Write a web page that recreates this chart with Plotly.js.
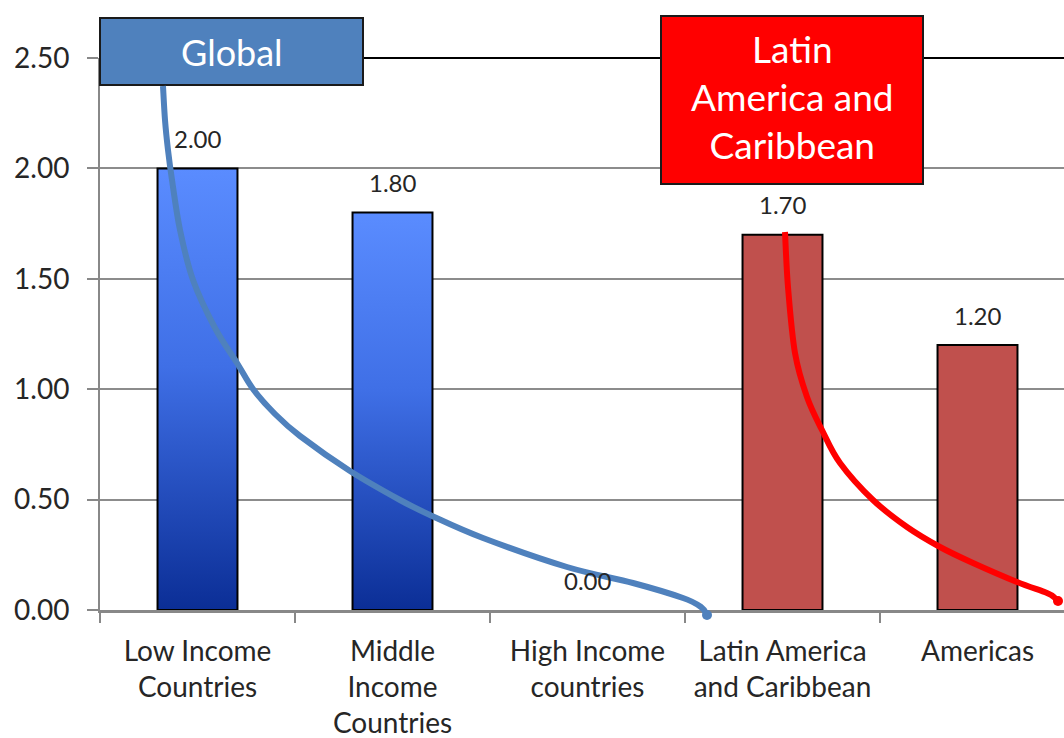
<!DOCTYPE html>
<html>
<head>
<meta charset="utf-8">
<script src="https://cdn.plot.ly/plotly-3.0.1.min.js"></script>
<style>
  html, body { margin: 0; padding: 0; background: #fff; }
  #chart { width: 1064px; height: 738px; }
</style>
</head>
<body>
<div id="chart"></div>
<script>
// ---- data ----
const categories = [
  "Low Income<br>Countries",
  "Middle<br>Income<br>Countries",
  "High Income<br>countries",
  "Latin America<br>and Caribbean",
  "Americas"
];
const globalCategories = categories.slice(0, 3);
const globalValues = [2.00, 1.80, 0.00];
const regionCategories = categories.slice(3);
const regionValues = [1.70, 1.20];
const yTickValues = [0, 0.5, 1.0, 1.5, 2.0, 2.5];
const globalLabel = "Global";
const regionLabel = "Latin<br>America and<br>Caribbean";

// ---- layout geometry (pixels) ----
const W = 1064, H = 738;
const M = { l: 100, r: 0, t: 58, b: 128 };
const plotW = W - M.l - M.r, plotH = H - M.t - M.b;
const catPx = 195; // pixel width of one category slot
const px = (x) => (x - M.l) / plotW;
const py = (y) => (H - M.b - y) / plotH;

// decorative hand-drawn connector curves (pixel positions)
const blueCurvePts = [[163,86],[165,120],[168,150],[172,180],[180,230],[193,280],[215,328],[237,363],[253,389],[275,414],[300,436],[350,471],[400,500],[430,515],[483,538],[567,567],[633,583],[683,598],[701,607],[707,615]];
const redCurvePts = [[785,232],[788,287],[795,353],[807,397],[822,430],[840,463],[873,500],[907,527],[940,547],[973,563],[1017,582],[1047,593],[1055,598],[1058,602]];

function smoothPath(pts) {
  const P = pts.map(p => [px(p[0]), py(p[1])]);
  let d = `M${P[0][0]},${P[0][1]}`;
  for (let i = 0; i < P.length - 1; i++) {
    const p0 = P[Math.max(0, i - 1)], p1 = P[i], p2 = P[i + 1], p3 = P[Math.min(P.length - 1, i + 2)];
    const c1 = [p1[0] + (p2[0] - p0[0]) / 6, p1[1] + (p2[1] - p0[1]) / 6];
    const c2 = [p2[0] - (p3[0] - p1[0]) / 6, p2[1] - (p3[1] - p1[1]) / 6];
    d += ` C${c1[0]},${c1[1]} ${c2[0]},${c2[1]} ${p2[0]},${p2[1]}`;
  }
  return d;
}
function dot(cx, cy, r, color) {
  return { type: 'circle', xref: 'paper', yref: 'paper', layer: 'above',
    x0: px(cx - r), x1: px(cx + r), y0: py(cy + r), y1: py(cy - r),
    fillcolor: color, line: { width: 0 } };
}

const FONT = "Lato, 'Open Sans', sans-serif";
const TXT = "#262626";

const traces = [
  { type: 'bar', x: globalCategories, y: globalValues, width: 0.41,
    marker: { color: '#3F6FE0', line: { color: '#000', width: globalValues.map(v => v > 0 ? 2 : 0) } },
    hoverinfo: 'skip', showlegend: false },
  { type: 'bar', x: regionCategories, y: regionValues, width: 0.41,
    marker: { color: '#C0504D', line: { color: '#000', width: regionValues.map(v => v > 0 ? 2 : 0) } },
    hoverinfo: 'skip', showlegend: false }
];

const allCats = globalCategories.concat(regionCategories);
const allVals = globalValues.concat(regionValues);
const valueLabels = allCats.map((c, i) => ({
  x: c, y: allVals[i], xref: 'x', yref: 'y', text: allVals[i].toFixed(2),
  showarrow: false, yanchor: 'middle', yshift: 30,
  font: { family: FONT, size: 24, color: TXT }
}));

const layout = {
  width: W, height: H,
  margin: M,
  paper_bgcolor: '#fff', plot_bgcolor: '#fff',
  barmode: 'overlay',
  showlegend: false,
  font: { family: FONT, color: TXT },
  xaxis: {
    type: 'category', categoryorder: 'array', categoryarray: categories,
    range: [-0.5, -0.5 + plotW / catPx],
    showline: true, linecolor: '#888', linewidth: 3,
    ticks: 'outside', tickson: 'boundaries', ticklen: 10, tickwidth: 2, tickcolor: '#888',
    showgrid: false, zeroline: false,
    tickfont: { family: FONT, size: 28, color: TXT },
    ticklabelstandoff: 14
  },
  yaxis: {
    range: [0, 2.5],
    tickvals: yTickValues, tickformat: '.2f',
    showline: true, linecolor: '#888', linewidth: 2,
    ticks: 'outside', ticklen: 11, tickwidth: 2, tickcolor: '#888',
    showgrid: true, gridcolor: '#8c8c8c', gridwidth: 2,
    zeroline: false,
    tickfont: { family: FONT, size: 28, color: TXT },
    ticklabelstandoff: 12
  },
  shapes: [
    { type: 'line', xref: 'paper', yref: 'paper', x0: 0, x1: 1, y0: 1, y1: 1,
      line: { color: '#000', width: 2 }, layer: 'above' },
    { type: 'rect', xref: 'paper', yref: 'paper', layer: 'above',
      x0: px(100), x1: px(363), y0: py(85), y1: py(18),
      fillcolor: '#4F81BD', line: { color: '#1a1a1a', width: 2 } },
    { type: 'rect', xref: 'paper', yref: 'paper', layer: 'above',
      x0: px(661), x1: px(923), y0: py(184), y1: py(16),
      fillcolor: '#FF0000', line: { color: '#1a1a1a', width: 2 } },
    { type: 'path', xref: 'paper', yref: 'paper', layer: 'above',
      path: smoothPath(blueCurvePts), line: { color: '#4F81BD', width: 6 } },
    dot(707, 615, 5, '#4F81BD'),
    { type: 'path', xref: 'paper', yref: 'paper', layer: 'above',
      path: smoothPath(redCurvePts), line: { color: '#FF0000', width: 6 } },
    dot(1058, 601, 5, '#FF0000')
  ],
  annotations: valueLabels.concat([
    { xref: 'paper', yref: 'paper', x: px(231.5), y: py(52), text: globalLabel,
      showarrow: false, xanchor: 'center', yanchor: 'middle',
      font: { family: FONT, size: 36, color: '#fff' } },
    { xref: 'paper', yref: 'paper', x: px(792), y: py(97), text: regionLabel,
      showarrow: false, xanchor: 'center', yanchor: 'middle',
      font: { family: FONT, size: 37, color: '#fff' } }
  ])
};

Plotly.newPlot('chart', traces, layout, { staticPlot: true, displayModeBar: false }).then(() => {
  const svg = document.querySelector('#chart .main-svg');
  const NS = 'http://www.w3.org/2000/svg';
  let defs = svg.querySelector('defs');
  if (!defs) { defs = document.createElementNS(NS, 'defs'); svg.insertBefore(defs, svg.firstChild); }
  const g = document.createElementNS(NS, 'linearGradient');
  g.setAttribute('id', 'blueBarGrad');
  g.setAttribute('x1', '0'); g.setAttribute('y1', '0');
  g.setAttribute('x2', '0'); g.setAttribute('y2', '1');
  [['0%', '#5A8CFF'], ['45%', '#3F6FE6'], ['100%', '#0B2E96']].forEach(([o, c]) => {
    const s = document.createElementNS(NS, 'stop');
    s.setAttribute('offset', o); s.setAttribute('stop-color', c);
    g.appendChild(s);
  });
  defs.appendChild(g);
  const firstTrace = svg.querySelectorAll('.barlayer .trace')[0];
  if (firstTrace) {
    firstTrace.querySelectorAll('.point path').forEach(p => { p.style.fill = 'url(#blueBarGrad)'; });
  }
});
</script>
</body>
</html>
